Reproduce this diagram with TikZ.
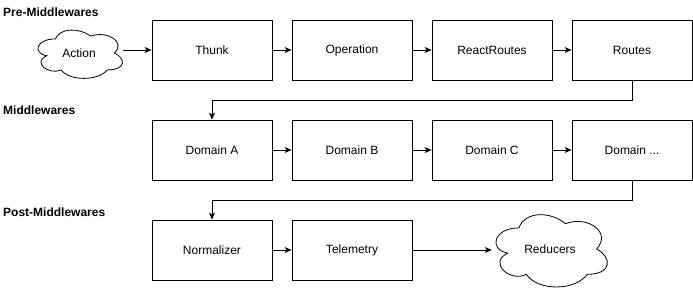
\documentclass[tikz,border=0pt]{standalone}
\usepackage{fontspec}
\setmainfont{Liberation Sans}
\usetikzlibrary{arrows.meta,calc}
\begin{document}
\begin{tikzpicture}[x=1pt,y=-1pt,
  box/.style={draw,line width=0.8pt,minimum width=120pt,minimum height=60pt,inner sep=0pt,font=\fontsize{12}{14}\selectfont},
  cloudbox/.style={inner sep=0pt,font=\fontsize{12}{14}\selectfont},
  section/.style={anchor=west,inner sep=0pt,font=\bfseries\fontsize{12}{14}\selectfont},
  flow/.style={line width=0.8pt,-{Stealth[length=7pt,width=6pt,inset=2pt]}},
]
\useasboundingbox (0,0) rectangle (693,291);

% cloud outline (draw.io cloud proportions) around a named node;
% \x1,\y1 is the top-left corner, \n1 the width, \n2 the (downward) height
\newcommand\cloudoutline[1]{%
  \draw[line width=0.8pt] let \p1=(#1.north west), \p2=(#1.south east),
    \n1={\x2-\x1}, \n2={\y2-\y1} in
    (\x1+0.25*\n1, \y1+0.25*\n2)
    .. controls (\x1+0.05*\n1, \y1+0.25*\n2) and (\x1, \y1+0.5*\n2) .. (\x1+0.16*\n1, \y1+0.55*\n2)
    .. controls (\x1, \y1+0.66*\n2) and (\x1+0.18*\n1, \y1+0.9*\n2) .. (\x1+0.31*\n1, \y1+0.8*\n2)
    .. controls (\x1+0.4*\n1, \y1+\n2) and (\x1+0.7*\n1, \y1+\n2) .. (\x1+0.8*\n1, \y1+0.8*\n2)
    .. controls (\x1+\n1, \y1+0.8*\n2) and (\x1+\n1, \y1+0.6*\n2) .. (\x1+0.875*\n1, \y1+0.5*\n2)
    .. controls (\x1+\n1, \y1+0.3*\n2) and (\x1+0.8*\n1, \y1+0.1*\n2) .. (\x1+0.625*\n1, \y1+0.2*\n2)
    .. controls (\x1+0.5*\n1, \y1+0.05*\n2) and (\x1+0.3*\n1, \y1+0.05*\n2) .. cycle;}

% section headings
\node[section] (lpre)  at (3,12)  {Pre-Middlewares};
\node[section] (lmid)  at (3,110) {Middlewares};
\node[section] (lpost) at (3,212) {Post-Middlewares};

% row 1
\node[cloudbox,minimum width=94pt,minimum height=56pt] (action) at (79,53) {Action};
\cloudoutline{action}
\node[box] (thunk) at (212,50) {Thunk};
\node[box] (oper)  at (352,50) {Operation};
\node[box] (rr)    at (492,50) {ReactRoutes};
\node[box] (routes) at (632,50) {Routes};

% row 2
\node[box] (da) at (212,150) {Domain A};
\node[box] (db) at (352,150) {Domain B};
\node[box] (dc) at (492,150) {Domain C};
\node[box] (dd) at (632,150) {Domain ...};

% row 3
\node[box] (norm) at (212,250) {Normalizer};
\node[box] (tele) at (352,250) {Telemetry};
\node[cloudbox,minimum width=124pt,minimum height=84pt] (red) at (550,249) {Reducers};
\cloudoutline{red}

% connectors
\draw[flow] ($(action.east)+(-3,-3)$) -- (thunk.west);
\draw[flow] (thunk) -- (oper);
\draw[flow] (oper) -- (rr);
\draw[flow] (rr) -- (routes);
\draw[flow] (routes.south) |- (632,100) -| (da.north);
\draw[flow] (da) -- (db);
\draw[flow] (db) -- (dc);
\draw[flow] (dc) -- (dd);
\draw[flow] (dd.south) |- (632,200) -| (norm.north);
\draw[flow] (norm) -- (tele);
\draw[flow] (tele.east) -- ($(red.west)+(4,1)$);
\end{tikzpicture}
\end{document}
